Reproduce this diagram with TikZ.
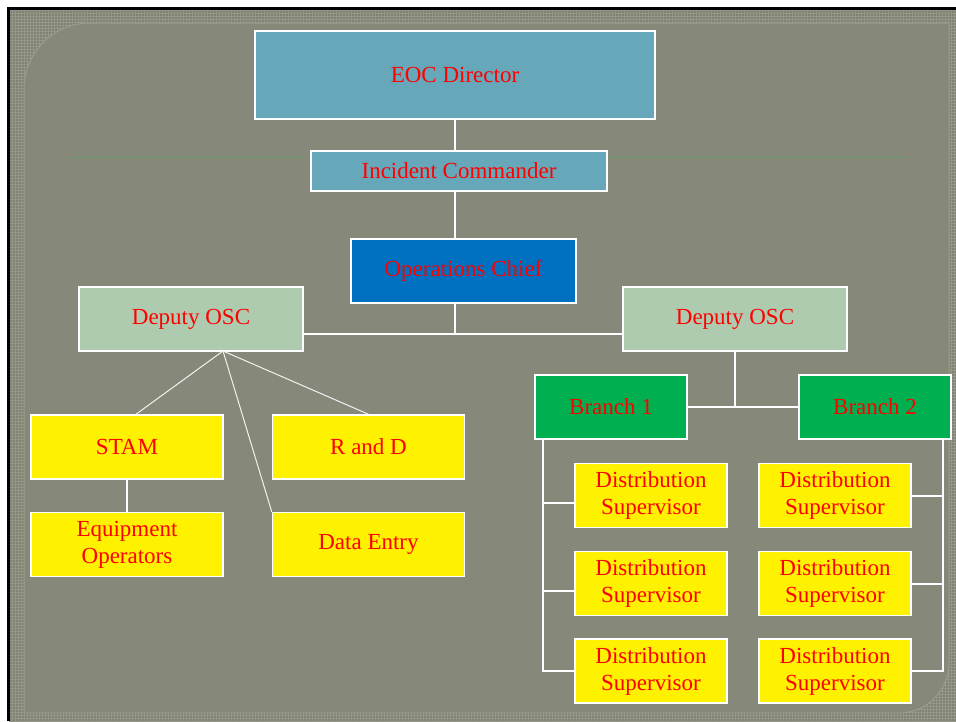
\documentclass[tikz,border=0pt]{standalone}
\usepackage{fontspec}
\setmainfont{Liberation Serif}
\usepackage{xcolor}
\usetikzlibrary{positioning,patterns}

\definecolor{steel}{HTML}{66A7B9}
\definecolor{opsblue}{HTML}{0070C0}
\definecolor{mint}{HTML}{AECBB0}
\definecolor{brgreen}{HTML}{00B050}
\definecolor{frame}{HTML}{7F8273}
\definecolor{framehi}{HTML}{959888}
\definecolor{panelbg}{HTML}{868879}
\definecolor{rim}{HTML}{9A9D8C}
\definecolor{rule}{HTML}{6E9B6E}

\begin{document}
\begin{tikzpicture}[x=1pt,y=-1pt,node distance=32pt and 48pt,
  every node/.style={font=\fontsize{23}{27}\selectfont},
  box/.style={draw=white,line width=1.5pt,text=red,align=center,inner sep=2pt,minimum height=64pt},
  topbox/.style={box,fill=steel},
  chief/.style={box,fill=opsblue,minimum width=225pt},
  deputy/.style={box,fill=mint,minimum width=224pt},
  branch/.style={box,fill=brgreen,minimum width=152pt},
  task/.style={box,fill=yellow,minimum width=192pt},
  dist/.style={box,fill=yellow,minimum width=152pt},
  link/.style={white,line width=2pt},
  fanline/.style={white!90!gray,line width=1pt}]
  % slide background
  \useasboundingbox (0,0) rectangle (956,721);
  \fill[white] (0,0) rectangle (956,721);
  \fill[frame] (9,9) rectangle (956,721);
  \fill[pattern=grid,pattern color=framehi] (9,9) rectangle (956,721);
  \draw[black,line width=3pt] (8.5,721) -- (8.5,8.5) -- (956,8.5);
  \filldraw[fill=panelbg,draw=rim,line width=1pt] (24,713) -- (24,89)
    arc[start angle=180,end angle=90,radius=66pt] -- (949,23) -- (949,663)
    arc[start angle=0,end angle=-90,radius=50pt] -- cycle;
  \draw[rule,line width=1pt] (70,157) -- (908,157);

  % top of the chart
  \node[topbox,minimum width=400pt,minimum height=88pt] (eoc) at (455,75) {EOC Director};
  \node[topbox,minimum width=296pt,minimum height=40pt] (ic) at (459,171) {Incident Commander};
  \node[chief] (ops) at (463.5,271) {Operations Chief};
  \node[deputy] (depL) at (191,319) {Deputy OSC};
  \node[deputy] (depR) at (735,319) {Deputy OSC};

  % left group
  \node[task] (stam) at (127,447) {STAM};
  \node[task,right=of stam] (rnd) {R and D};
  \node[task,below=of stam] (eqop) {Equipment\\Operators};
  \node[task,below=of rnd] (data) {Data Entry};

  % right group
  \node[branch] (br1) at (611,407) {Branch 1};
  \node[branch] (br2) at (875,407) {Branch 2};
  \foreach \r/\y in {1/495.5,2/583.5,3/671}{
    \node[dist] (dA\r) at (651,\y) {Distribution\\Supervisor};
    \node[dist] (dB\r) at (835,\y) {Distribution\\Supervisor};
  }

  % connectors
  \coordinate (jn) at (455,334);
  \coordinate (fan) at (223,351);
  \coordinate (busA) at (543,439);
  \coordinate (busB) at (943,439);
  \coordinate (sA1) at ([yshift=-7.5pt]dA1.west);
  \coordinate (sA2) at ([yshift=-7.5pt]dA2.west);
  \draw[link] (eoc.south) -- (eoc.south |- ic.north);
  \draw[link] (eoc.south |- ic.south) -- (eoc.south |- ops.north);
  \draw[link] (eoc.south |- ops.south) -- (jn);
  \draw[link] (depL.east |- jn) -- (depR.west |- jn);
  \draw[fanline] (fan) -- ([xshift=9pt]stam.north);
  \draw[fanline] (fan) -- (rnd.north);
  \draw[fanline] (fan) -- (data.north west);
  \draw[link] (stam.south) -- (eqop.north);
  \draw[link] (depR.south) -- (depR.south |- br1.east);
  \draw[link] (br1.east) -- (br2.west);
  \draw[link] (busA) -- (busA |- dA3.west) -- (dA3.west);
  \draw[link] (busA |- sA1) -- (sA1);
  \draw[link] (busA |- sA2) -- (sA2);
  \draw[link] (busB) -- (busB |- dB3.east) -- (dB3.east);
  \draw[link] (dB1.east) -- (busB |- dB1.east);
  \draw[link] (dB2.east) -- (busB |- dB2.east);
\end{tikzpicture}
\end{document}
